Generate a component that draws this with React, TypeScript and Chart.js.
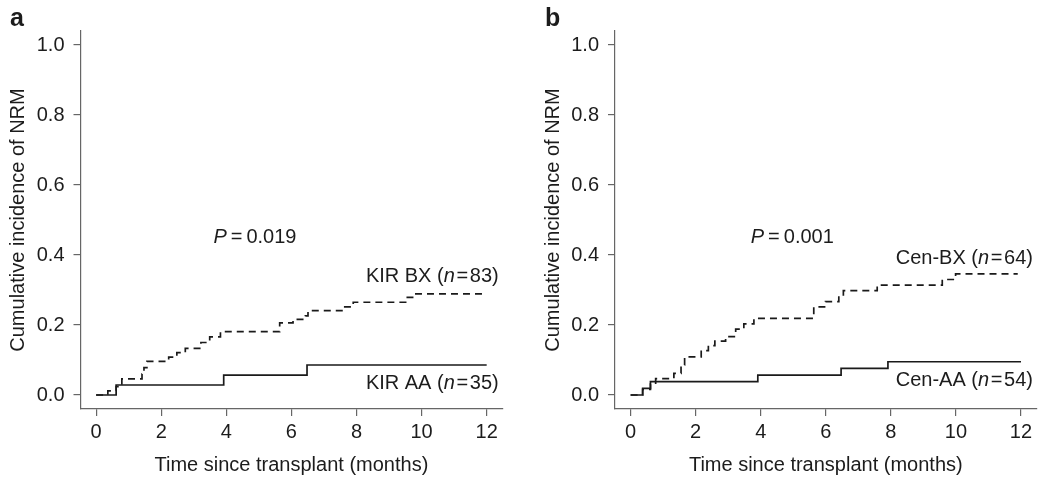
import React, { useEffect, useRef } from "react";
import { Chart, registerables } from "chart.js";
Chart.register(...registerables);

// ---------- data ----------
const xTickValues = [0, 2, 4, 6, 8, 10, 12];
const yTickValues = [0, 0.2, 0.4, 0.6, 0.8, 1.0];

const kirBXTimes = [0, 0.36, 0.615, 0.79, 1.41, 1.47, 1.56, 2.23, 2.48, 2.74, 3.22, 3.49, 3.82, 5.64, 6.05, 6.43, 6.51, 7.61, 7.9, 9.51, 9.76, 12];
const kirBXValues = [0, 0.012, 0.024, 0.046, 0.06, 0.078, 0.096, 0.108, 0.121, 0.133, 0.15, 0.166, 0.181, 0.206, 0.216, 0.226, 0.241, 0.252, 0.265, 0.279, 0.289, 0.289];
const kirAATimes = [0, 0.615, 3.92, 6.48, 12];
const kirAAValues = [0, 0.0286, 0.057, 0.0857, 0.0857];

const cenBXTimes = [0, 0.37, 0.61, 0.77, 1.33, 1.55, 1.66, 2.17, 2.39, 2.59, 2.92, 3.23, 3.48, 3.79, 5.63, 5.99, 6.4, 6.54, 7.58, 9.58, 9.99, 11.9];
const cenBXValues = [0, 0.016, 0.031, 0.047, 0.062, 0.086, 0.109, 0.127, 0.141, 0.154, 0.167, 0.188, 0.203, 0.219, 0.252, 0.267, 0.283, 0.298, 0.314, 0.33, 0.346, 0.346];
const cenAATimes = [0, 0.37, 0.61, 3.91, 6.47, 7.91, 12];
const cenAAValues = [0, 0.019, 0.038, 0.057, 0.076, 0.095, 0.095];

const xTitle = "Time since transplant (months)";
const yTitle = "Cumulative incidence of NRM";

// ---------- styles ----------
const FONT = "'Liberation Sans', Arial, Helvetica, sans-serif";
const TEXT = "#1c1c1c";
const AXIS = "#666666";
const LINE = "#1a1a1a";

type Run = { text: string; italic?: boolean };
type Note = { x: number; y: number; align: "left" | "right" | "center"; runs: Run[] };

const toPoints = (ts: number[], vs: number[]) => ts.map((t, i) => ({ x: t, y: vs[i] }));

const notesPlugin = {
  id: "notes",
  afterDraw(chart: any, _args: any, opts: any) {
    const ctx = chart.ctx;
    const xs = chart.scales.x;
    const ys = chart.scales.y;
    ctx.save();
    ctx.fillStyle = TEXT;
    ctx.textBaseline = "middle";
    ctx.textAlign = "left";
    (opts.notes || []).forEach((n: Note) => {
      const widths = n.runs.map((r) => {
        ctx.font = `${r.italic ? "italic " : ""}20px ${FONT}`;
        return ctx.measureText(r.text).width;
      });
      const total = widths.reduce((a, b) => a + b, 0);
      let px = xs.getPixelForValue(n.x);
      const py = ys.getPixelForValue(n.y);
      if (n.align === "right") px -= total;
      else if (n.align === "center") px -= total / 2;
      n.runs.forEach((r, i) => {
        ctx.font = `${r.italic ? "italic " : ""}20px ${FONT}`;
        ctx.fillText(r.text, px, py);
        px += widths[i];
      });
    });
    if (opts.letter) {
      ctx.font = `bold 25px ${FONT}`;
      ctx.textBaseline = "alphabetic";
      ctx.fillText(opts.letter.text, opts.letter.x, opts.letter.y);
    }
    ctx.restore();
  },
};

type PanelProps = {
  left: number;
  yWidth: number;
  padRight: number;
  yTitlePad: number;
  letter: string;
  letterX: number;
  bx: { x: number; y: number }[];
  aa: { x: number; y: number }[];
  notes: Note[];
};

const W = 525;
const H = 485;

function Panel(p: PanelProps) {
  const ref = useRef<HTMLCanvasElement | null>(null);
  useEffect(() => {
    if (!ref.current) return;
    const tickFont = { family: FONT, size: 20 };
    const chart = new Chart(ref.current, {
      type: "line",
      data: {
        datasets: [
          {
            data: p.bx,
            stepped: true,
            borderColor: LINE,
            borderWidth: 1.7,
            borderDash: [7, 5],
            pointRadius: 0,
            fill: false,
          },
          {
            data: p.aa,
            stepped: true,
            borderColor: LINE,
            borderWidth: 1.7,
            pointRadius: 0,
            fill: false,
          },
        ],
      },
      options: {
        animation: false,
        responsive: false,
        events: [],
        layout: { padding: { top: 31, right: p.padRight, left: 0, bottom: 0 } },
        plugins: {
          legend: { display: false },
          tooltip: { enabled: false },
          notes: { notes: p.notes, letter: { text: p.letter, x: p.letterX, y: 26 } },
        } as any,
        scales: {
          x: {
            type: "linear",
            min: -0.48,
            max: 12.48,
            afterBuildTicks: (s: any) => {
              s.ticks = xTickValues.map((v) => ({ value: v }));
            },
            afterFit: (s: any) => {
              s.height = 76;
            },
            grid: { drawOnChartArea: false, drawTicks: true, tickLength: 7, color: AXIS, lineWidth: 1.2 },
            border: { display: true, color: AXIS, width: 1.2 },
            ticks: {
              color: TEXT,
              font: tickFont,
              padding: 4,
              maxRotation: 0,
              autoSkip: false,
              callback: (v: any) => String(v),
            },
            title: {
              display: true,
              text: xTitle,
              color: TEXT,
              font: { family: FONT, size: 20 },
              padding: { top: 0, bottom: 8 },
            },
          },
          y: {
            type: "linear",
            min: -0.04,
            max: 1.04,
            afterBuildTicks: (s: any) => {
              s.ticks = yTickValues.map((v) => ({ value: v }));
            },
            afterFit: (s: any) => {
              s.width = p.yWidth;
            },
            grid: { drawOnChartArea: false, drawTicks: true, tickLength: 7, color: AXIS, lineWidth: 1.2 },
            border: { display: true, color: AXIS, width: 1.2 },
            ticks: {
              color: TEXT,
              font: tickFont,
              padding: 9,
              autoSkip: false,
              callback: (v: any) => Number(v).toFixed(1),
            },
            title: {
              display: true,
              text: yTitle,
              color: TEXT,
              font: { family: FONT, size: 20 },
              padding: { top: p.yTitlePad, bottom: 0 },
            },
          },
        },
      } as any,
      plugins: [notesPlugin],
    });
    return () => chart.destroy();
  }, []);
  return (
    <canvas
      ref={ref}
      width={W}
      height={H}
      style={{ position: "absolute", left: p.left, top: 0, width: W, height: H, display: "block" }}
    />
  );
}

export default function App() {
  const notesA: Note[] = [
    { x: 4.88, y: 0.449, align: "center", runs: [{ text: "P", italic: true }, { text: "\u2009=\u20090.019" }] },
    { x: 12.37, y: 0.34, align: "right", runs: [{ text: "KIR BX (" }, { text: "n", italic: true }, { text: "\u200a=\u200a83)" }] },
    { x: 12.37, y: 0.033, align: "right", runs: [{ text: "KIR AA (" }, { text: "n", italic: true }, { text: "\u200a=\u200a35)" }] },
  ];
  const notesB: Note[] = [
    { x: 4.97, y: 0.449, align: "center", runs: [{ text: "P", italic: true }, { text: "\u2009=\u20090.001" }] },
    { x: 12.37, y: 0.391, align: "right", runs: [{ text: "Cen-BX (" }, { text: "n", italic: true }, { text: "\u200a=\u200a64)" }] },
    { x: 12.37, y: 0.041, align: "right", runs: [{ text: "Cen-AA (" }, { text: "n", italic: true }, { text: "\u200a=\u200a54)" }] },
  ];
  return (
    <div style={{ position: "absolute", left: 0, top: 0, width: 1050, height: 485, background: "#fff", overflow: "hidden" }}>
      <Panel
        left={0}
        yWidth={80.5}
        padRight={22.7}
        yTitlePad={6}
        letter="a"
        letterX={10}
        bx={toPoints(kirBXTimes, kirBXValues)}
        aa={toPoints(kirAATimes, kirAAValues)}
        notes={notesA}
      />
      <Panel
        left={525}
        yWidth={90}
        padRight={13.4}
        yTitlePad={16}
        letter="b"
        letterX={20}
        bx={toPoints(cenBXTimes, cenBXValues)}
        aa={toPoints(cenAATimes, cenAAValues)}
        notes={notesB}
      />
    </div>
  );
}
